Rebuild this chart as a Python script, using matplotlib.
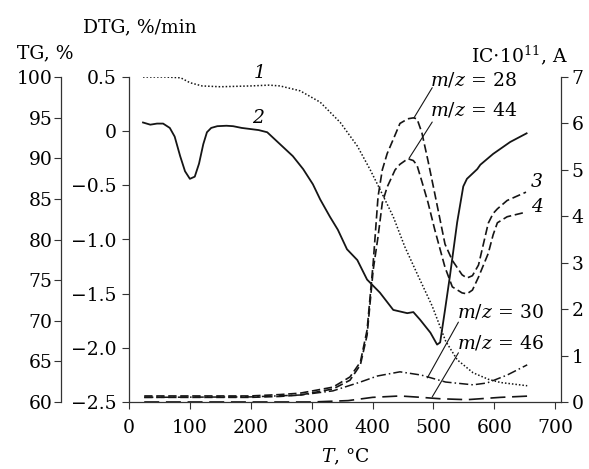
import matplotlib.pyplot as plt

plt.rcParams['font.family'] = 'DejaVu Serif'
plt.rcParams['mathtext.fontset'] = 'dejavuserif'
plt.rcParams['font.size'] = 13.5

# curve 1: TG, %
t_tg = [23, 60, 85, 100, 120, 150, 200, 230, 248, 281, 314, 347, 375, 396, 412, 434, 453,
        475, 498, 520, 539, 565, 590, 610, 654]
tg = [100.0, 100.0, 99.9, 99.3, 98.9, 98.8, 98.9, 99.0, 98.9, 98.3, 96.9, 94.4, 91.5, 88.6,
      86.2, 82.8, 79.1, 75.5, 71.8, 67.5, 65.2, 63.6, 62.8, 62.4, 62.0]

# curve 2: DTG, %/min
t_dtg = [23, 35, 46, 56, 67, 75, 84, 92, 100, 108, 115, 122, 128, 135, 145, 160, 171, 185,
         199, 213, 227, 248, 269, 286, 302, 314, 330, 343, 358, 375, 391, 412, 434, 457, 467,
         478, 495, 506, 511, 519, 527, 539, 549, 555, 572, 577, 598, 626, 653]
dtg = [0.08, 0.06, 0.07, 0.07, 0.03, -0.05, -0.23, -0.37, -0.44, -0.42, -0.30, -0.12, -0.01,
       0.03, 0.046, 0.05, 0.046, 0.03, 0.02, 0.01, -0.01, -0.12, -0.23, -0.35, -0.49, -0.63,
       -0.79, -0.91, -1.09, -1.19, -1.37, -1.49, -1.65, -1.68, -1.67, -1.74, -1.86, -1.97,
       -1.95, -1.65, -1.34, -0.84, -0.51, -0.44, -0.35, -0.31, -0.21, -0.10, -0.02]

# ion currents, IC*10^11, A
t_ms = [25, 117, 199, 248, 281, 335, 363, 380, 391, 401, 409, 416, 424, 437, 445, 458, 467,
        473, 481, 491, 502, 519, 531, 547, 555, 564, 574, 590, 598, 605, 621, 652]
mz28 = [0.13, 0.13, 0.13, 0.16, 0.19, 0.32, 0.54, 0.86, 1.55, 2.99, 4.42, 5.0, 5.35, 5.75,
        6.0, 6.1, 6.12, 6.1, 5.8, 5.2, 4.5, 3.4, 3.05, 2.74, 2.67, 2.72, 2.95, 3.85, 4.06,
        4.16, 4.34, 4.52]
mz44 = [0.10, 0.10, 0.10, 0.12, 0.15, 0.28, 0.47, 0.80, 1.44, 2.84, 3.56, 4.29, 4.63, 5.0,
        5.12, 5.24, 5.2, 5.1, 4.75, 4.3, 3.72, 2.9, 2.48, 2.35, 2.33, 2.41, 2.69, 3.2, 3.6,
        3.86, 3.99, 4.09]

t_30 = [25, 200, 281, 335, 380, 408, 445, 480, 520, 565, 588, 621, 654]
mz30 = [0.10, 0.11, 0.15, 0.24, 0.43, 0.56, 0.65, 0.58, 0.43, 0.37, 0.41, 0.58, 0.80]

t_46 = [25, 300, 360, 400, 445, 480, 511, 555, 610, 660]
mz46 = [0.0, 0.0, 0.03, 0.10, 0.13, 0.10, 0.07, 0.05, 0.10, 0.13]

dtg_ticks = [-2.5, -2.0, -1.5, -1.0, -0.5, 0, 0.5]
dtg_labels = ['\u22122.5', '\u22122.0', '\u22121.5', '\u22121.0', '\u22120.5', '0', '0.5']

W, H = 589, 469
fig = plt.figure(figsize=(W / 100, H / 100), dpi=100)
ax = fig.add_axes([129 / W, (H - 402) / H, (560.7 - 129) / W, (402 - 77) / H])
tgax = ax.twinx()
ic = ax.twinx()

col = '#151515'
spc = '#333333'

# DTG (main axis)
ax.plot(t_dtg, dtg, color=col, lw=1.3)
ax.set_xlim(0, 709)
ax.set_ylim(-2.5, 0.5)
ax.set_xticks(range(0, 701, 100))
ax.set_yticks(dtg_ticks)
ax.set_yticklabels(dtg_labels)
for s in ['top', 'right']:
    ax.spines[s].set_visible(False)
ax.tick_params(axis='x', direction='out', length=5, pad=7, color=spc)
ax.tick_params(axis='y', direction='out', length=5, pad=4, color=spc)

# TG axis, shifted left
tgax.plot(t_tg, tg, color=col, lw=1.1, linestyle=(0, (1, 1.3)))
tgax.set_ylim(60, 100)
tgax.set_yticks(range(60, 101, 5))
tgax.yaxis.set_ticks_position('left')
tgax.spines['left'].set_position(('axes', -68 / 431.7))
for s in ['top', 'right', 'bottom']:
    tgax.spines[s].set_visible(False)
tgax.tick_params(axis='y', direction='out', length=5, pad=1, color=spc)

# IC axis on the right
ic.plot(t_ms, mz28, color=col, lw=1.2, dashes=(5, 2.2))
ic.plot(t_ms, mz44, color=col, lw=1.2, dashes=(5, 2.2))
ic.plot(t_30, mz30, color=col, lw=1.1, dashes=(6, 2, 1, 2))
ic.plot(t_46, mz46, color=col, lw=1.2, dashes=(9, 4))
ic.set_ylim(0, 7)
ic.set_yticks(range(0, 8))
for s in ['top', 'left', 'bottom']:
    ic.spines[s].set_visible(False)
ic.tick_params(axis='y', direction='out', length=5, pad=3, color=spc)

for a in (ax, tgax, ic):
    for s in a.spines.values():
        s.set_color(spc)
        s.set_linewidth(0.9)

# curve numbers
ic.text(215, 7.09, '1', style='italic', ha='center', va='center')
ic.text(212, 6.12, '2', style='italic', ha='center', va='center')
ic.text(670, 4.74, '3', style='italic', ha='center', va='center')
ic.text(670, 4.20, '4', style='italic', ha='center', va='center')

# m/z labels with leader lines
lead = dict(arrowstyle='-', color=col, lw=0.8, shrinkA=0, shrinkB=0)
ic.annotate('', xy=(468, 6.12), xytext=(498, 6.77), arrowprops=lead)
ic.annotate('', xy=(460, 5.25), xytext=(498, 6.03), arrowprops=lead)
ic.annotate('', xy=(490, 0.52), xytext=(541, 1.72), arrowprops=lead)
ic.annotate('', xy=(498, 0.11), xytext=(541, 1.06), arrowprops=lead)
ic.text(495, 6.94, r'$m/z\,{=}\,28$', ha='left', va='center')
ic.text(495, 6.29, r'$m/z\,{=}\,44$', ha='left', va='center')
ic.text(539, 1.94, r'$m/z\,{=}\,30$', ha='left', va='center')
ic.text(539, 1.27, r'$m/z\,{=}\,46$', ha='left', va='center')

# axis titles
fig.text(140 / W, 1 - 27 / H, 'DTG, %/min', ha='center', va='center')
fig.text(45 / W, 1 - 53 / H, 'TG, %', ha='center', va='center')
fig.text(520 / W, 1 - 55 / H, r'IC$\cdot$10$^{11}$, A', ha='center', va='center')
fig.text(345 / W, 1 - 457 / H, r'$T$, °C', ha='center', va='center')

fig.savefig('out.png', dpi=100)
